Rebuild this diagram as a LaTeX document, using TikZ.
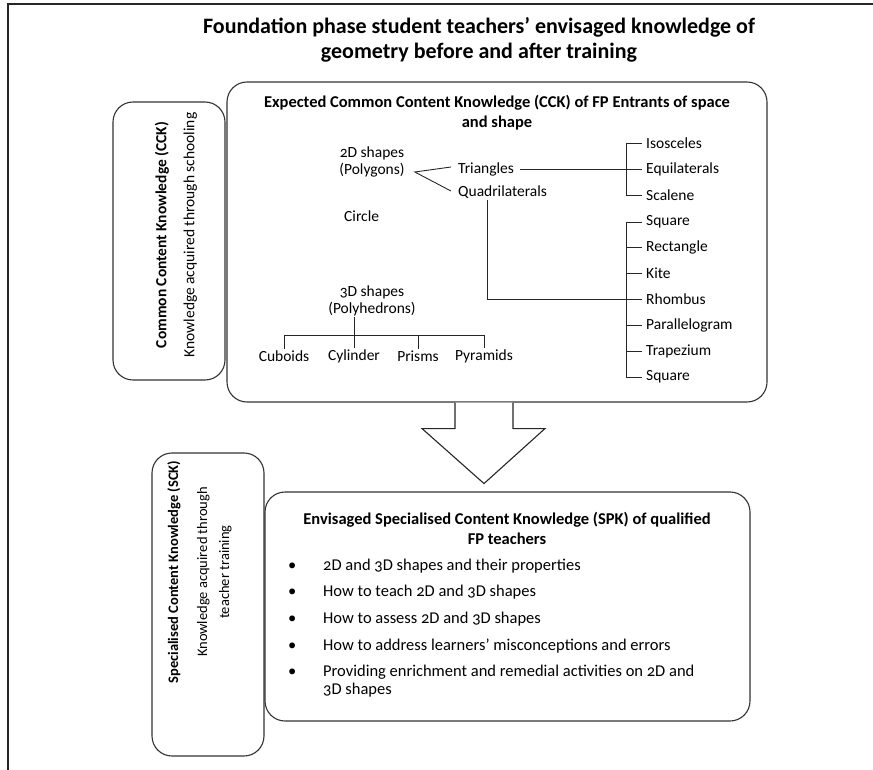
\documentclass[tikz,border=0pt]{standalone}
\usepackage{fontspec}
\setmainfont{Carlito}[Numbers=OldStyle]
\usetikzlibrary{positioning}

\begin{document}
\begin{tikzpicture}[
  x=1pt, y=-1pt,
  font=\fontsize{15.5}{17}\selectfont,
  card/.style={draw=black!80, line width=1.1pt, rounded corners=20pt, inner sep=0pt},
  lbl/.style={inner sep=1pt, align=center},
  leaf/.style={inner sep=1pt, anchor=west},
  tree/.style={draw=black!85, line width=0.9pt},
  side/.style={rotate=90, align=center, font=\fontsize{15.5}{17}\selectfont},
  head/.style={align=center, font=\bfseries\fontsize{16.5}{20}\selectfont}
]
\useasboundingbox (0,0) rectangle (873,770);

% page frame, open on the right and at the bottom
\draw[line width=2.2pt, black!85] (873,4) -- (8,4) -- (8,770);

\node[font=\bfseries\fontsize{22}{25}\selectfont, align=center] (title) at (479,40)
  {Foundation phase student teachers’ envisaged knowledge of\\geometry before and after training};

% the four boxes
\node[card, minimum width=112pt, minimum height=278pt] (cckside) at (169,241) {};
\node[card, minimum width=540pt, minimum height=320pt] (cck) at (497,242) {};
\node[card, minimum width=112pt, minimum height=303pt] (sckside) at (208,604.5) {};
\node[card, minimum width=485pt, minimum height=229pt] (spk) at (507.5,606.5) {};

\node[side] (ccktext) at (176,235)
  {\textbf{Common Content Knowledge (CCK)}\\[11pt]Knowledge acquired through schooling};
\node[side, font=\fontsize{14.5}{22}\selectfont] (scktext) at (199.5,572)
  {\textbf{Specialised Content Knowledge (SCK)}\\[7pt]Knowledge acquired through\\teacher training};

% block arrow between the two main boxes
\draw[draw=black!85, line width=1.1pt, fill=white] ([xshift=-42pt]cck.south) -- ++(0,26) -- ++(-33,0)
  -- ++(62,55) -- ++(61,-55) -- ++(-32,0) -- ++(0,-26);

% expected CCK
\node[head] (cckhead) at (497,113)
  {Expected Common Content Knowledge (CCK) of FP Entrants of space\\and shape};

\node[lbl] (poly) at (372,162) {2D shapes\\(Polygons)};
\node[leaf] (tri) at (457,169) {Triangles};
\node[leaf] (quad) at (457,192) {Quadrilaterals};
\node[leaf] (circ) at (343,216) {Circle};

\node[leaf] (iso) at (645,143) {Isosceles};
\node[leaf] (equ) at (645,169) {Equilaterals};
\node[leaf] (sca) at (645,195) {Scalene};

\node[leaf] (sq1) at (645,222) {Square};
\node[leaf] (rec) at (645,247) {Rectangle};
\node[leaf] (kit) at (645,273) {Kite};
\node[leaf] (rho) at (645,299) {Rhombus};
\node[leaf] (par) at (645,325) {Parallelogram};
\node[leaf] (tra) at (645,351) {Trapezium};
\node[leaf] (sq2) at (645,377) {Square};

\node[lbl] (polyh) at (372,301) {3D shapes\\(Polyhedrons)};
\node[lbl] (cub) at (284,356) {Cuboids};
\node[lbl] (cyl) at (354,356) {Cylinder};
\node[lbl] (pri) at (418,356) {Prisms};
\node[lbl] (pyr) at (484,356) {Pyramids};

\draw[tree] ([xshift=-6pt,yshift=2pt]tri.west) -- ([xshift=9pt,yshift=-10pt]poly.east)
  -- ([xshift=-6pt,yshift=1pt]quad.west);
\draw[tree] ([xshift=5pt]tri.east) -- ([xshift=-3pt]equ.west);
\draw[tree] ([xshift=-3pt]iso.west) -- ++(-16,0) |- ([xshift=-3pt]sca.west);
\draw[tree] ([xshift=-3pt]equ.west) -- ++(-16,0);

\draw[tree] (quad.south west) ++(30,0) |- ([xshift=-3pt]rho.west);
\draw[tree] ([xshift=-3pt]sq1.west) -- ++(-16,0) |- ([xshift=-3pt]sq2.west);
\draw[tree] ([xshift=-3pt]rec.west) -- ++(-16,0);
\draw[tree] ([xshift=-3pt]kit.west) -- ++(-16,0);
\draw[tree] ([xshift=-3pt]rho.west) -- ++(-16,0);
\draw[tree] ([xshift=-3pt]par.west) -- ++(-16,0);
\draw[tree] ([xshift=-3pt]tra.west) -- ++(-16,0);

\draw[tree] (cub.north) -- ++(0,-14) -| (pyr.north);
\draw[tree] (cyl.north) -- (cyl.north |- polyh.south);
\draw[tree] (pri.north) -- ++(0,-14);

% envisaged SPK
\node[head] (spkhead) at (507,528.5)
  {Envisaged Specialised Content Knowledge (SPK) of qualified\\FP teachers};
\node[anchor=base west, inner sep=0pt, font=\fontsize{16.5}{18}\selectfont] (spklist) at (288,570) {%
  \begin{tabular}[t]{@{}p{35pt}@{}l@{}}
  \textbullet & 2D and 3D shapes and their properties\\[8.7pt]
  \textbullet & How to teach 2D and 3D shapes\\[8.7pt]
  \textbullet & How to assess 2D and 3D shapes\\[8.7pt]
  \textbullet & How to address learners’ misconceptions and errors\\[8.7pt]
  \textbullet & Providing enrichment and remedial activities on 2D and\\
              & 3D shapes
  \end{tabular}};

\end{tikzpicture}
\end{document}
